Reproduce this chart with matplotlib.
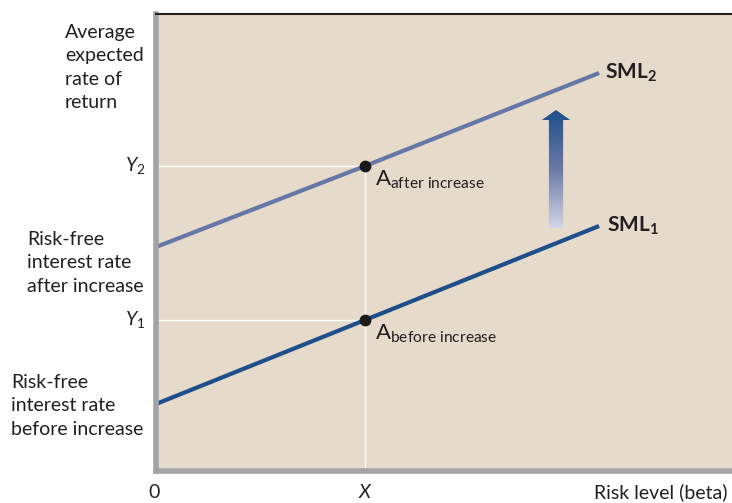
import matplotlib.pyplot as plt
import numpy as np
from matplotlib.patches import Polygon
from matplotlib.colors import LinearSegmentedColormap

plt.rcParams['font.family'] = ['Lato', 'DejaVu Sans']
plt.rcParams['mathtext.fontset'] = 'custom'
plt.rcParams['mathtext.rm'] = 'Lato'
plt.rcParams['mathtext.it'] = 'Lato:italic'
plt.rcParams['mathtext.bf'] = 'Lato:bold'

# data (beta on x, expected return on y, arbitrary units)
beta = [0.0, 1.0, 2.12]
sml1 = [0.67, 1.51, 2.45]
sml2 = [2.24, 3.05, 3.98]
x_point = 1.0
y1 = 1.51
y2 = 3.05
arrow_x = 1.914
arrow_bottom = 2.43
arrow_top = 3.61

bg = '#e6dacb'
dark_blue = '#1e4f8a'
light_blue = '#6577a6'
W, H = 732, 503

fig = plt.figure(figsize=(W / 100, H / 100), dpi=100)
ax = fig.add_axes([156 / W, 32 / H, 576 / W, 457 / H])
ax.set_facecolor(bg)
ax.set_xlim(0, 2.756)
ax.set_ylim(0, 4.57)

ax.spines['right'].set_visible(False)
ax.spines['top'].set_color('#222222')
ax.spines['top'].set_linewidth(1.5)
ax.spines['left'].set_color('#a4a4a8')
ax.spines['left'].set_linewidth(4)
ax.spines['bottom'].set_color('#a4a4a8')
ax.spines['bottom'].set_linewidth(4)
ax.set_xticks([])
ax.set_yticks([])

# white guide lines
ax.plot([0, x_point], [y1, y1], color='white', lw=1, zorder=1)
ax.plot([0, x_point], [y2, y2], color='white', lw=1, zorder=1)
ax.plot([x_point, x_point], [0, y2], color='white', lw=1, zorder=1)

# security market lines
ax.plot(beta, sml1, color=dark_blue, lw=3, solid_capstyle='butt', zorder=2)
ax.plot(beta, sml2, color=light_blue, lw=3, solid_capstyle='butt', zorder=2)
ax.plot([x_point, x_point], [y1, y2], 'o', color='#1a1a1a', ms=7.5, zorder=3)

# gradient arrow
shaft = 0.034
head = 0.068
head_len = 0.10
verts = [(arrow_x - shaft, arrow_bottom), (arrow_x + shaft, arrow_bottom),
         (arrow_x + shaft, arrow_top - head_len), (arrow_x + head, arrow_top - head_len),
         (arrow_x, arrow_top), (arrow_x - head, arrow_top - head_len),
         (arrow_x - shaft, arrow_top - head_len)]
poly = Polygon(verts, closed=True, facecolor='none', edgecolor='none')
ax.add_patch(poly)
grad = np.linspace(0, 1, 256).reshape(-1, 1)
cmap = LinearSegmentedColormap.from_list('arr', ['#d3d6e8', '#6a79a6', dark_blue])
im = ax.imshow(grad, cmap=cmap, origin='lower', aspect='auto',
               extent=[arrow_x - head, arrow_x + head, arrow_bottom, arrow_top], zorder=2)
im.set_clip_path(poly)

tc = '#231f20'
fs = 14
ls = 1.45

# labels next to marks
ax.text(2.12 + 0.03, sml2[-1], r'SML$_\mathbf{2}$', fontsize=15, fontweight='bold',
        va='center', ha='left', color=tc)
ax.text(2.12 + 0.04, sml1[-1], r'SML$_\mathbf{1}$', fontsize=15, fontweight='bold',
        va='center', ha='left', color=tc)
ax.text(x_point + 0.05, y2 - 0.03, r'A$_\mathregular{after\ increase}$', fontsize=16,
        va='top', ha='left', color=tc)
ax.text(x_point + 0.05, y1 - 0.03, r'A$_\mathregular{before\ increase}$', fontsize=16,
        va='top', ha='left', color=tc)

def fx(px):
    return px / W

def fy(py):
    return 1 - py / H

fig.text(fx(65), fy(24), 'Average\nexpected\nrate of\nreturn', fontsize=fs,
         ha='left', va='top', linespacing=ls, color=tc)
fig.text(fx(27), fy(231), 'Risk-free\ninterest rate\nafter increase', fontsize=fs,
         ha='left', va='top', linespacing=ls, color=tc)
fig.text(fx(11), fy(374), 'Risk-free\ninterest rate\nbefore increase', fontsize=fs,
         ha='left', va='top', linespacing=ls, color=tc)
ax.text(-0.05, y2, r'$Y_2$', fontsize=fs, ha='right', va='center', color=tc,
        clip_on=False)
ax.text(-0.05, y1, r'$Y_1$', fontsize=fs, ha='right', va='center', color=tc,
        clip_on=False)
fig.text(fx(154), fy(492), '0', fontsize=fs, ha='center', va='center', color=tc)
fig.text(fx(365), fy(492), 'X', fontsize=fs, ha='center', va='center',
         style='italic', color=tc)
fig.text(fx(727), fy(492), 'Risk level (beta)', fontsize=fs, ha='right',
         va='center', color=tc)

fig.savefig('out.png', dpi=100, facecolor='white')
